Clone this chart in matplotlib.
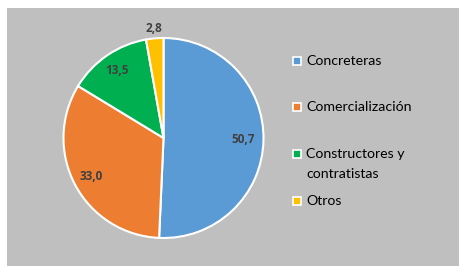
import numpy as np
import matplotlib.pyplot as plt
from matplotlib.patches import Rectangle

categories = ["Concreteras", "Comercialización", "Constructores y\ncontratistas", "Otros"]
values = [50.7, 33.0, 13.5, 2.8]
colors = ["#5B9BD5", "#ED7D31", "#00B050", "#FFC000"]

W, H = 459, 266
fig = plt.figure(figsize=(W / 100, H / 100), dpi=100)
fig.patch.set_facecolor("white")

# gray chart area
fig.patches.append(Rectangle((7 / W, 0), (W - 7) / W, (H - 8) / H,
                             transform=fig.transFigure, facecolor="#BFBFBF",
                             edgecolor="none", zorder=-5))

ax = fig.add_axes([63.5 / W, (H - 238) / H, 200 / W, 200 / H])
ax.set_zorder(2)
wedges, _ = ax.pie(values, colors=colors, startangle=90, counterclock=False,
                   wedgeprops=dict(edgecolor="white", linewidth=1.5))
ax.set_xlim(-1, 1)
ax.set_ylim(-1, 1)
ax.set_aspect("equal")
ax.axis("off")

dists = [0.8, 0.82, 0.82, 1.1]
for w, v, d in zip(wedges, values, dists):
    ang = np.deg2rad((w.theta1 + w.theta2) / 2)
    ax.text(d * np.cos(ang), d * np.sin(ang), f"{v:.1f}".replace(".", ","),
            ha="center", va="center", fontsize=8.5, fontweight="bold",
            color="#404040", family="Open Sans")

# legend
leg_y = [61, 107, 154, 201]
for lab, c, y in zip(categories, colors, leg_y):
    fig.patches.append(Rectangle(((297 - 4) / W, 1 - (y + 4) / H), 8 / W, 8 / H,
                                 transform=fig.transFigure, facecolor=c,
                                 edgecolor="white", linewidth=1.2, zorder=3))
    if "\n" in lab:
        fig.text(306 / W, 1 - (y - 6) / H, lab, ha="left", va="top",
                 fontsize=10.2, color="black", family="Lato", linespacing=1.75)
    else:
        fig.text(306 / W, 1 - y / H, lab, ha="left", va="center",
                 fontsize=10.2, color="black", family="Lato")

fig.savefig("out.png", dpi=100)
